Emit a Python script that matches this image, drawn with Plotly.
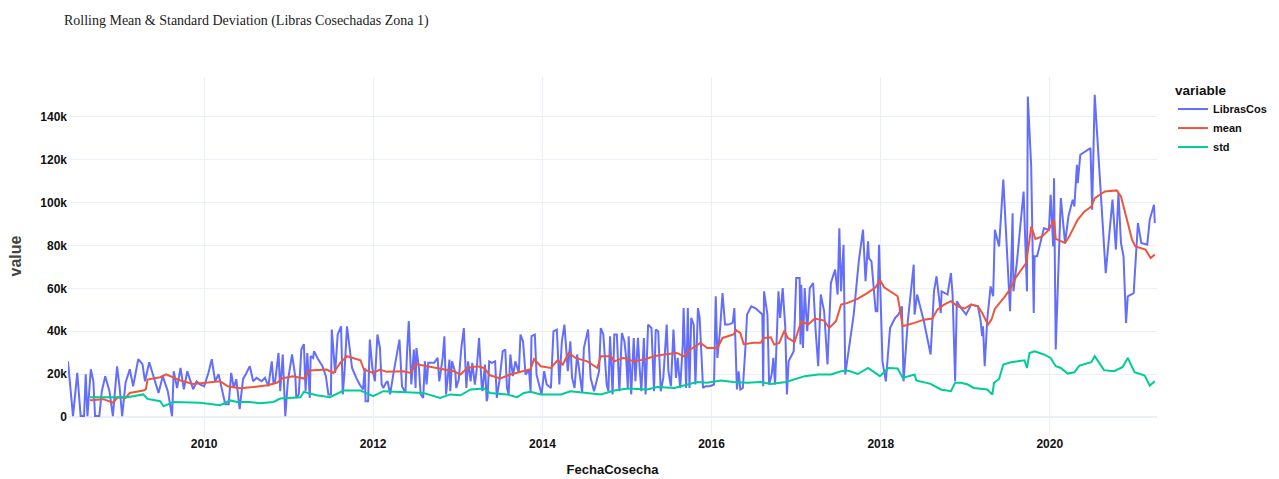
import pandas as pd
import plotly.graph_objects as go

# --- data (decimal year, value in thousands of libras) ---
libras_t = [2008.39,2008.45,2008.50,2008.54,2008.58,2008.60,2008.62,2008.66,2008.69,2008.71,2008.76,2008.79,2008.83,2008.88,2008.92,2008.97,
2009.00,2009.03,2009.07,2009.12,2009.16,2009.22,2009.27,2009.30,2009.35,2009.41,2009.46,2009.51,2009.57,2009.62,2009.64,2009.68,2009.72,2009.76,2009.80,2009.83,2009.87,2009.91,2009.95,
2010.00,2010.05,2010.09,2010.13,2010.17,2010.21,2010.25,2010.29,2010.32,2010.35,2010.38,2010.42,2010.46,2010.50,2010.54,2010.58,2010.62,2010.68,2010.72,2010.76,2010.80,2010.82,2010.84,2010.88,2010.90,2010.93,2010.96,2010.99,
2011.04,2011.08,2011.09,2011.12,2011.15,2011.18,2011.20,2011.22,2011.25,2011.26,2011.29,2011.30,2011.35,2011.40,2011.44,2011.47,2011.50,2011.51,2011.55,2011.58,2011.61,2011.62,2011.64,2011.66,2011.69,2011.72,2011.75,2011.80,2011.84,2011.88,2011.90,2011.91,2011.94,2011.96,2011.99,
2012.02,2012.05,2012.08,2012.10,2012.12,2012.15,2012.17,2012.20,2012.24,2012.28,2012.31,2012.34,2012.38,2012.40,2012.42,2012.45,2012.48,2012.50,2012.51,2012.54,2012.56,2012.59,2012.61,2012.63,2012.65,2012.68,2012.72,2012.76,2012.78,2012.82,2012.84,2012.86,2012.90,2012.91,2012.93,2012.97,2012.98,
2013.01,2013.04,2013.07,2013.10,2013.12,2013.15,2013.17,2013.20,2013.22,2013.25,2013.28,2013.29,2013.32,2013.34,2013.35,2013.37,2013.40,2013.44,2013.46,2013.49,2013.53,2013.56,2013.58,2013.60,2013.62,2013.65,2013.68,2013.72,2013.74,2013.77,2013.80,2013.84,2013.86,2013.87,2013.91,2013.93,2013.97,2013.99,
2014.02,2014.05,2014.10,2014.13,2014.17,2014.20,2014.23,2014.26,2014.30,2014.33,2014.35,2014.38,2014.41,2014.44,2014.47,2014.49,2014.54,2014.57,2014.61,2014.64,2014.67,2014.69,2014.72,2014.76,2014.78,2014.80,2014.83,2014.85,2014.88,2014.91,2014.94,2014.97,2014.99,
2015.01,2015.02,2015.05,2015.08,2015.10,2015.13,2015.15,2015.17,2015.20,2015.22,2015.25,2015.29,2015.32,2015.34,2015.37,2015.40,2015.43,2015.47,2015.49,2015.52,2015.55,2015.58,2015.60,2015.63,2015.66,2015.67,2015.70,2015.72,2015.74,2015.76,2015.79,2015.81,2015.84,2015.86,2015.90,2015.93,2015.98,
2016.03,2016.05,2016.07,2016.10,2016.13,2016.16,2016.20,2016.25,2016.27,2016.30,2016.32,2016.34,2016.37,2016.40,2016.42,2016.47,2016.52,2016.60,2016.61,2016.62,2016.66,2016.68,2016.71,2016.73,2016.75,2016.79,2016.81,2016.84,2016.87,2016.89,2016.91,2016.97,
2017.00,2017.04,2017.05,2017.06,2017.08,2017.10,2017.13,2017.16,2017.20,2017.23,2017.26,2017.29,2017.33,2017.37,2017.41,2017.46,2017.49,2017.51,2017.53,2017.56,2017.58,2017.63,2017.68,2017.74,2017.79,2017.82,2017.85,2017.86,2017.89,2017.94,2017.96,2017.98,
2018.00,2018.02,2018.06,2018.11,2018.17,2018.21,2018.25,2018.27,2018.32,2018.39,2018.40,2018.43,2018.51,2018.59,2018.63,2018.66,2018.71,2018.72,2018.79,2018.83,2018.85,2018.88,2018.90,2018.95,
2019.01,2019.07,2019.15,2019.18,2019.20,2019.21,2019.23,2019.26,2019.30,2019.33,2019.35,2019.40,2019.45,2019.53,2019.56,2019.57,2019.61,2019.69,2019.73,2019.74,2019.78,2019.81,2019.82,2019.85,2019.93,2019.99,
2020.01,2020.04,2020.05,2020.07,2020.13,2020.18,2020.22,2020.27,2020.29,2020.32,2020.33,2020.36,2020.48,2020.50,2020.53,2020.60,2020.66,2020.74,2020.78,2020.81,2020.84,2020.87,2020.90,2020.92,2020.99,
2021.04,2021.08,2021.15,2021.18,2021.23,2021.24]

libras_k = [26.0,0.5,20.6,0.5,0.5,20.0,0.5,22.3,16.7,0.5,0.5,12.1,19.1,12.1,0.5,23.7,
13.6,0.5,16.0,22.3,14.4,27.0,24.7,16.7,25.6,18.3,11.3,19.1,12.1,0.5,21.4,13.6,22.9,13.0,21.4,17.7,13.0,16.7,15.3,
14.4,20.6,27.0,16.7,20.0,13.6,6.0,6.0,20.6,13.6,17.7,3.7,17.7,20.6,23.7,16.7,18.3,16.7,18.3,14.4,26.0,16.0,16.7,29.9,12.1,29.2,0.5,16.7,
29.2,18.3,9.0,10.6,31.6,34.0,12.1,29.9,9.0,28.4,27.6,30.7,26.8,23.7,19.1,10.6,10.6,40.8,20.6,38.5,41.5,42.3,10.6,20.6,42.3,32.2,22.9,18.3,15.2,12.9,22.9,7.4,7.4,36.1,22.9,
16.7,38.5,32.2,15.2,13.6,16.0,16.7,10.6,20.6,30.7,36.1,14.4,11.3,30.7,44.7,15.2,31.5,13.6,32.2,22.9,10.6,9.0,26.0,15.2,25.3,25.3,25.3,27.6,16.7,27.6,37.7,10.6,26.8,12.1,26.0,20.6,13.6,
17.5,32.2,41.5,13.6,26.0,16.7,25.3,15.2,21.4,36.9,15.2,12.1,24.5,7.4,9.0,26.0,25.3,26.0,9.0,16.7,30.7,31.5,13.6,10.6,29.2,19.1,26.0,20.6,38.5,35.3,19.8,22.2,12.1,37.7,38.5,19.8,13.6,10.6,
21.4,15.2,13.6,40.0,40.8,15.2,35.3,43.1,21.4,35.3,18.3,13.6,29.2,19.8,11.3,32.2,40.8,18.3,12.1,16.7,21.4,41.5,38.5,15.2,12.1,37.7,10.6,38.5,38.5,12.1,39.2,35.3,27.6,
13.6,37.7,10.6,36.9,16.7,36.9,22.9,12.1,36.9,10.6,43.1,41.5,12.1,40.8,40.0,12.1,18.3,43.1,21.4,14.4,40.8,18.3,27.6,13.6,33.8,50.8,13.6,50.8,13.6,46.2,43.1,15.2,50.8,46.2,13.6,14.4,14.4,
15.2,56.3,27.6,40.0,57.8,43.1,43.1,43.9,50.8,12.9,21.4,12.9,13.6,32.2,47.8,51.6,50.7,47.8,14.4,58.6,47.8,15.2,19.8,27.6,15.2,58.6,46.2,60.1,42.3,10.6,26.0,30.7,
64.8,64.8,33.8,61.7,32.2,60.1,40.0,60.1,62.5,40.0,23.7,57.1,49.3,24.5,62.5,68.7,57.1,88.0,58.6,80.3,19.9,33.8,47.8,72.6,87.3,63.3,81.9,74.1,72.6,49.3,49.3,80.3,
49.3,26.0,16.7,41.5,46.2,47.8,51.6,16.7,44.7,71.0,47.8,57.1,44.7,29.2,58.6,65.6,48.5,58.6,57.1,67.1,57.1,16.7,54.0,50.8,
47.8,52.4,51.6,45.4,37.7,42.3,23.7,45.4,60.9,56.3,87.3,79.5,110.6,49.3,95.0,58.6,71.8,105.1,58.6,149.3,116.7,48.5,74.9,74.9,88.0,87.3,
103.6,79.5,111.3,31.5,102.0,81.1,93.5,101.3,98.1,117.5,109.0,122.2,125.3,96.6,150.1,102.8,67.1,101.3,78.0,104.3,81.1,74.9,43.9,56.3,57.8,
90.4,81.1,80.3,92.0,98.9,90.4]

mean_t = [2008.65,2008.81,2008.92,2008.98,2009.07,2009.12,2009.28,2009.31,2009.33,2009.48,2009.55,2009.62,2009.72,2009.87,2010.04,2010.19,2010.28,2010.43,2010.58,2010.75,2010.86,2010.93,
2011.05,2011.18,2011.25,2011.45,2011.53,2011.61,2011.69,2011.85,2011.89,2012.00,2012.08,2012.16,2012.36,2012.44,2012.50,2012.64,2012.75,2012.83,2012.95,2013.03,2013.11,2013.23,2013.31,2013.38,2013.50,2013.62,2013.74,2013.86,
2013.90,2013.98,2014.10,2014.18,2014.24,2014.31,2014.39,2014.53,2014.65,2014.69,2014.81,2014.85,2014.96,2015.08,2015.20,2015.32,2015.44,2015.59,2015.67,2015.75,2015.87,2015.95,2016.07,2016.13,2016.26,2016.29,2016.34,2016.38,2016.50,
2016.58,2016.62,2016.70,2016.74,2016.80,2016.86,2016.90,2016.98,2017.06,2017.14,2017.22,2017.33,2017.39,2017.47,2017.53,2017.61,2017.73,2017.84,2017.94,2017.99,2018.04,2018.20,2018.26,2018.40,2018.51,2018.61,2018.67,2018.75,2018.83,2018.91,2018.99,
2019.07,2019.15,2019.20,2019.27,2019.31,2019.35,2019.47,2019.54,2019.58,2019.66,2019.72,2019.76,2019.78,2019.83,2019.91,2019.99,2020.05,2020.07,2020.18,2020.23,2020.33,2020.41,2020.49,2020.53,2020.65,2020.79,2020.84,2020.91,2020.97,2021.01,2021.13,2021.19,2021.24]

mean_k = [7.9,8.4,6.7,9.3,9.0,11.3,12.4,13.0,17.5,18.6,19.9,18.6,17.1,15.5,16.0,16.7,14.4,13.5,14.0,14.9,16.0,18.1,
19.1,18.0,21.7,22.2,20.6,25.3,28.4,26.5,22.2,20.6,22.2,21.1,21.4,20.6,24.7,23.7,22.9,22.2,21.4,19.9,22.9,23.7,22.9,19.5,18.0,19.9,21.1,22.3,
27.0,23.7,22.9,26.5,24.5,29.9,27.6,26.0,22.9,28.4,28.4,26.0,27.6,26.0,26.8,28.4,29.2,29.9,28.4,31.5,34.6,32.2,32.2,36.9,38.5,40.5,39.2,34.0,34.6,
34.6,36.9,37.2,33.8,34.6,40.3,36.9,35.0,44.7,43.1,45.9,45.0,41.5,44.7,52.4,53.2,55.2,57.8,60.5,64.0,60.5,56.3,42.3,43.9,45.4,45.9,50.1,52.4,54.0,51.6,50.6,
52.4,51.6,48.5,43.1,45.4,50.4,56.3,60.1,64.0,68.7,71.8,82.6,88.8,83.0,84.2,87.3,92.0,83.0,81.1,84.2,92.0,95.8,98.1,102.0,105.1,105.6,102.8,92.0,82.7,79.5,78.0,74.1,75.7]

std_t = [2008.65,2009.09,2009.28,2009.33,2009.48,2009.52,2009.64,2009.95,2010.19,2010.31,2010.39,2010.54,2010.66,2010.82,2010.90,2011.14,
2011.18,2011.33,2011.49,2011.65,2011.85,2012.00,2012.12,2012.32,2012.59,2012.79,2012.91,2013.03,2013.15,2013.31,2013.38,2013.58,2013.70,2013.78,2013.86,
2013.98,2014.22,2014.33,2014.53,2014.69,2014.85,2015.01,2015.24,2015.36,2015.56,2015.72,2015.83,2015.95,2016.11,2016.26,2016.42,2016.58,
2016.70,2016.88,2016.98,2017.10,2017.26,2017.41,2017.53,2017.61,2017.73,2017.85,2017.99,2018.09,2018.20,2018.26,2018.40,2018.42,2018.59,2018.71,2018.83,2018.88,
2018.95,2019.03,2019.10,2019.18,2019.26,2019.32,2019.34,2019.40,2019.45,2019.54,2019.70,2019.73,2019.76,2019.82,2019.93,2020.01,2020.07,2020.13,2020.21,2020.29,2020.35,2020.49,2020.53,2020.64,2020.76,2020.86,2020.92,2021.00,2021.12,2021.18,2021.24]

std_k = [9.3,9.3,10.6,8.5,7.4,5.1,7.1,6.7,5.6,7.8,7.1,7.1,6.5,7.1,8.7,9.3,
11.8,10.2,9.3,12.4,12.4,9.8,12.1,11.8,11.3,9.0,10.6,10.2,12.9,13.3,11.3,10.6,9.3,11.3,11.8,
10.6,10.6,12.1,11.3,10.6,12.4,13.3,12.9,14.0,13.6,15.2,16.4,16.0,17.1,16.4,16.0,16.4,
15.5,16.4,17.5,19.1,19.9,19.9,21.4,21.7,20.1,22.9,19.1,22.9,22.7,18.3,19.9,17.1,15.5,12.9,12.1,16.0,
16.0,15.2,13.6,13.3,12.9,10.5,16.0,17.8,24.5,25.6,26.5,22.9,29.9,30.7,29.2,27.6,23.7,22.9,20.3,20.9,24.0,25.6,28.4,21.9,21.4,23.4,27.6,20.9,19.4,14.7,16.7]

# axis extents
x_range = ["2008-05-23", "2021-04-08"]
y_range = [-8300, 158400]


def to_dates(years):
    out = []
    for y in years:
        yr = int(y)
        start = pd.Timestamp(year=yr, month=1, day=1)
        end = pd.Timestamp(year=yr + 1, month=1, day=1)
        out.append(start + (end - start) * (y - yr))
    return out


series = [
    ("LibrasCos", libras_t, libras_k, "#636efa"),
    ("mean", mean_t, mean_k, "#EF553B"),
    ("std", std_t, std_k, "#00cc96"),
]

fig = go.Figure()
for name, t, v, color in series:
    fig.add_trace(go.Scatter(
        x=to_dates(t), y=[k * 1000 for k in v], mode="lines", name=name,
        line=dict(color=color, width=2),
    ))

sans = "Arial, Liberation Sans, sans-serif"
fig.update_layout(
    template="plotly_white",
    width=1279, height=479,
    margin=dict(l=68, r=122, t=77, b=44, autoexpand=False),
    title=dict(text="Rolling Mean & Standard Deviation (Libras Cosechadas Zona 1)",
               x=0.05, xanchor="left", xref="container",
               y=1 - 20 / 479, yanchor="middle", yref="container",
               pad=dict(t=0, b=0, l=0, r=0),
               font=dict(family="Times New Roman, Liberation Serif, serif", size=14,
                         color="#222", weight="normal")),
    legend=dict(x=1.0147, xanchor="left", y=1, yanchor="top",
                title=dict(text="variable", font=dict(family=sans, size=13.5, color="#111", weight="bold")),
                font=dict(family=sans, size=11, color="#111", weight="bold"), tracegroupgap=0),
    font=dict(family=sans, color="#111"),
)
fig.update_xaxes(title=dict(text="FechaCosecha", standoff=14,
                            font=dict(family=sans, size=13, color="#111", weight="bold")),
                 tickfont=dict(family=sans, size=12, color="#111", weight="bold"),
                 range=x_range, dtick="M24", tick0="2010-01-01", automargin=False)
fig.update_yaxes(title=dict(text="value", standoff=14,
                            font=dict(family=sans, size=16, color="#444", weight="bold")),
                 tickfont=dict(family=sans, size=12, color="#111", weight="bold"),
                 range=y_range, dtick=20000, automargin=False)
fig.write_html("out.html", config={"displayModeBar": False},
               post_script="document.body.style.margin='0';")
